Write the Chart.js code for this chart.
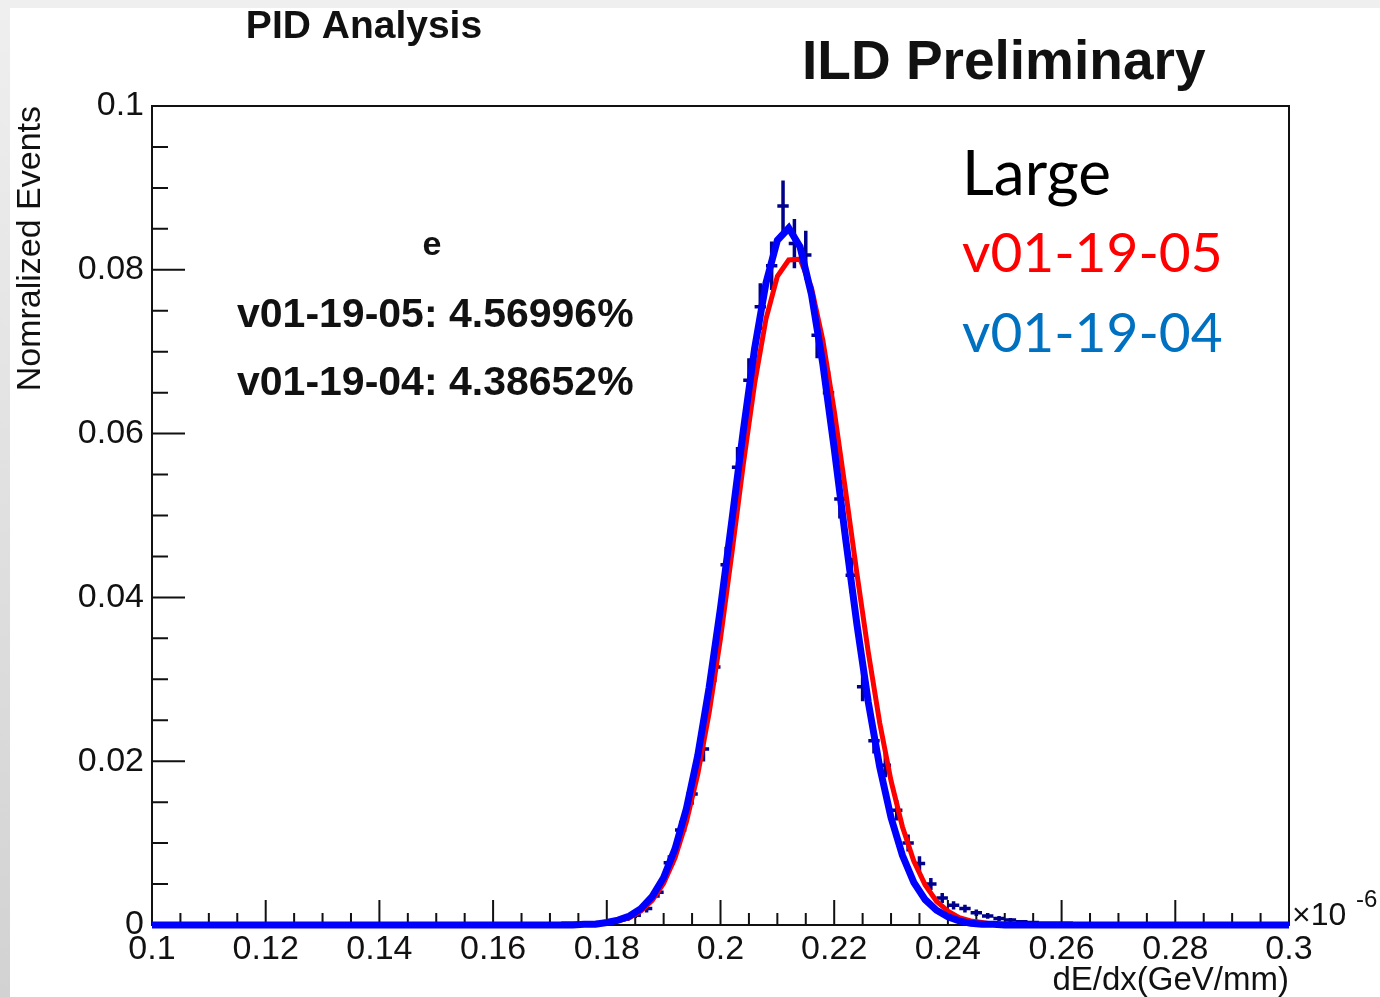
<!DOCTYPE html>
<html>
<head>
<meta charset="utf-8">
<script src="https://cdn.jsdelivr.net/npm/chart.js@4.4.0/dist/chart.umd.min.js"></script>
<style>
  html, body { margin: 0; padding: 0; }
  body { width: 1380px; height: 997px; overflow: hidden; position: relative; background: linear-gradient(#efefef, #d2d2d2); }
  #panel { position: absolute; left: 10px; top: 8px; width: 1370px; height: 989px; background: #fff; }
</style>
</head>
<body>
<div id="panel"><canvas id="grafico" width="1370" height="989"></canvas></div>
<script>
// CENTROS DE BINS (dE/dx, x1e-6 GeV/mm)
const binCenters = [
  0.101, 0.103, 0.105, 0.107, 0.109, 0.111, 0.113, 0.115, 0.117, 0.119,
  0.121, 0.123, 0.125, 0.127, 0.129, 0.131, 0.133, 0.135, 0.137, 0.139,
  0.141, 0.143, 0.145, 0.147, 0.149, 0.151, 0.153, 0.155, 0.157, 0.159,
  0.161, 0.163, 0.165, 0.167, 0.169, 0.171, 0.173, 0.175, 0.177, 0.179,
  0.181, 0.183, 0.185, 0.187, 0.189, 0.191, 0.193, 0.195, 0.197, 0.199,
  0.201, 0.203, 0.205, 0.207, 0.209, 0.211, 0.213, 0.215, 0.217, 0.219,
  0.221, 0.223, 0.225, 0.227, 0.229, 0.231, 0.233, 0.235, 0.237, 0.239,
  0.241, 0.243, 0.245, 0.247, 0.249, 0.251, 0.253, 0.255, 0.257, 0.259,
  0.261, 0.263, 0.265, 0.267, 0.269, 0.271, 0.273, 0.275, 0.277, 0.279,
  0.281, 0.283, 0.285, 0.287, 0.289, 0.291, 0.293, 0.295, 0.297, 0.299
];
// HISTOGRAMA v01-19-04 (eventos normalizados)
const histValues = [
  0, 0, 0, 0, 0, 0, 0, 0, 0, 0,
  0, 0, 0, 0, 0, 0.0001, 0.0001, 0, 0.0001, 0.0001,
  0, 0, 0, 0, 0.0001, 0.0001, 0, 0.0001, 0.0001, 0,
  0.0001, 0.0001, 0.0001, 0.0001, 0.0001, 0.0001, 0.0002, 0.0002, 0.0002, 0.0003,
  0.0004, 0.0007, 0.0012, 0.0020, 0.0040, 0.0076, 0.0116, 0.0160, 0.0215, 0.0315,
  0.0440, 0.0559, 0.0665, 0.0755, 0.0805, 0.0878, 0.0832, 0.0818, 0.0720, 0.0650,
  0.0520, 0.0427, 0.0291, 0.0225, 0.0195, 0.0140, 0.0100, 0.0075, 0.0050, 0.0033,
  0.0024, 0.0020, 0.0015, 0.0011, 0.0008, 0.0006, 0.0004, 0.0003, 0.0002, 0.0002,
  0.0002, 0.0001, 0.0001, 0, 0.0001, 0.0001, 0, 0, 0, 0,
  0, 0, 0, 0, 0, 0, 0, 0, 0, 0
];
const histErrors = [
  0, 0, 0, 0, 0, 0, 0, 0, 0, 0,
  0, 0, 0, 0, 0, 0.0001, 0.0001, 0, 0.0001, 0.0001,
  0, 0, 0, 0, 0.0001, 0.0001, 0, 0.0001, 0.0001, 0,
  0.0001, 0.0001, 0.0001, 0.0001, 0.0001, 0.0001, 0.00015, 0.00015, 0.00015, 0.00018,
  0.0002, 0.00028, 0.00036, 0.00047, 0.00066, 0.00091, 0.00112, 0.00132, 0.00153, 0.00185,
  0.00219, 0.00246, 0.00269, 0.00286, 0.00296, 0.00309, 0.00301, 0.00298, 0.0028, 0.00266,
  0.00238, 0.00215, 0.00178, 0.00156, 0.00146, 0.00123, 0.00104, 0.0009, 0.00074, 0.0006,
  0.00051, 0.00047, 0.0004, 0.00035, 0.0003, 0.00026, 0.0002, 0.00018, 0.00015, 0.00015,
  0.00015, 0.0001, 0.0001, 0, 0.0001, 0.0001, 0, 0, 0, 0,
  0, 0, 0, 0, 0, 0, 0, 0, 0, 0
];

// CURVAS DE AJUSTE
const curveX = [
  0.100,
  0.170, 0.172, 0.174, 0.176, 0.178, 0.180, 0.182, 0.184, 0.186, 0.188,
  0.190, 0.192, 0.194, 0.196, 0.198, 0.200, 0.202, 0.204, 0.206, 0.208,
  0.210, 0.212, 0.214, 0.216, 0.218, 0.220, 0.222, 0.224, 0.226, 0.228,
  0.230, 0.232, 0.234, 0.236, 0.238, 0.240, 0.242, 0.244, 0.246, 0.248,
  0.250, 0.252, 0.254, 0.256, 0.258, 0.260,
  0.300
];
const fitV0405 = [
  0,
  0, 0, 0, 0.0001, 0.0001, 0.0003, 0.0005, 0.0009, 0.0017, 0.0030,
  0.0051, 0.0082, 0.0126, 0.0184, 0.0259, 0.0350, 0.0454, 0.0562, 0.0661, 0.0740,
  0.0792, 0.0812, 0.0813, 0.0778, 0.0714, 0.0628, 0.0530, 0.0429, 0.0333, 0.0247,
  0.0176, 0.0120, 0.0078, 0.0049, 0.0029, 0.0017, 0.0009, 0.0005, 0.0003, 0.0001,
  0.0001, 0, 0, 0, 0, 0,
  0
];
const fitV0404 = [
  0,
  0, 0, 0, 0.0001, 0.0001, 0.0003, 0.0006, 0.0011, 0.0020, 0.0035,
  0.0058, 0.0093, 0.0142, 0.0207, 0.0290, 0.0387, 0.0494, 0.0603, 0.0704, 0.0784,
  0.0836, 0.0851, 0.0828, 0.0770, 0.0685, 0.0582, 0.0472, 0.0367, 0.0272, 0.0193,
  0.0131, 0.0085, 0.0052, 0.0031, 0.0018, 0.0010, 0.0005, 0.0002, 0.0001, 0.0001,
  0, 0, 0, 0, 0, 0,
  0
];

const binWidth = 0.002;
const fuente = "'Liberation Sans', Arial, sans-serif";

function formatear(v) {
  return String(Math.round(v * 1000) / 1000);
}

// MARCO Y TICKS ESTILO ROOT
const marco = {
  id: 'marco',
  beforeDatasetsDraw(chart) {
    const { ctx, chartArea: a, scales: { x, y } } = chart;
    ctx.save();
    ctx.strokeStyle = '#111';
    ctx.lineWidth = 2;
    ctx.strokeRect(a.left, a.top, a.right - a.left, a.bottom - a.top);
    ctx.beginPath();
    for (let i = 0; i <= 40; i++) {
      const px = x.getPixelForValue(0.1 + i * 0.005);
      const largo = i % 4 === 0 ? 25 : 12;
      ctx.moveTo(px, a.bottom);
      ctx.lineTo(px, a.bottom - largo);
    }
    for (let i = 0; i <= 20; i++) {
      const py = y.getPixelForValue(i * 0.005);
      const largo = i % 4 === 0 ? 33 : 16;
      ctx.moveTo(a.left, py);
      ctx.lineTo(a.left + largo, py);
    }
    ctx.stroke();
    ctx.restore();
  }
};

// BARRAS DE ERROR DEL HISTOGRAMA
const barrasError = {
  id: 'barrasError',
  afterDatasetDraw(chart, args) {
    if (args.index !== 2) return;
    const { ctx, scales: { x, y } } = chart;
    ctx.save();
    ctx.strokeStyle = '#00008c';
    ctx.lineWidth = 3.5;
    ctx.beginPath();
    binCenters.forEach((c, i) => {
      const v = histValues[i];
      const e = histErrors[i];
      const x1 = x.getPixelForValue(c - binWidth / 2);
      const x2 = x.getPixelForValue(c + binWidth / 2);
      const py = y.getPixelForValue(v);
      const px = x.getPixelForValue(c);
      ctx.moveTo(x1, py);
      ctx.lineTo(x2, py);
      if (e > 0) {
        ctx.moveTo(px, y.getPixelForValue(v - e));
        ctx.lineTo(px, y.getPixelForValue(v + e));
      }
    });
    ctx.stroke();
    ctx.restore();
  }
};

// TEXTOS
const textos = {
  id: 'textos',
  afterDraw(chart) {
    const { ctx } = chart;
    ctx.save();
    ctx.fillStyle = '#111';
    ctx.textBaseline = 'alphabetic';
    ctx.textAlign = 'center';
    ctx.font = `bold 39px ${fuente}`;
    ctx.fillText('PID Analysis', 354, 30);
    ctx.font = `bold 34px ${fuente}`;
    ctx.fillText('e', 422, 247);
    ctx.textAlign = 'left';
    ctx.font = `bold 55px ${fuente}`;
    ctx.fillText('ILD Preliminary', 792, 71);
    ctx.font = `bold 41px ${fuente}`;
    ctx.fillText('v01-19-05: 4.56996%', 227, 319);
    ctx.fillText('v01-19-04: 4.38652%', 227, 387);
    ctx.font = `32px ${fuente}`;
    ctx.fillText('\u00d710', 1282, 917);
    ctx.font = `24px ${fuente}`;
    ctx.fillText('-6', 1346, 899);
    ctx.font = "62px Lato, sans-serif";
    ctx.fillStyle = '#000';
    ctx.fillText('Large', 952, 187);
    ctx.font = "55px Lato, sans-serif";
    ctx.fillStyle = '#ff0000';
    ctx.fillText('v01-19-05', 952, 264);
    ctx.fillStyle = '#0070c0';
    ctx.fillText('v01-19-04', 952, 344);
    ctx.restore();
  }
};

const canvasGrafico = document.getElementById('grafico');
const grafico = new Chart(canvasGrafico, {
  type: 'line',
  data: {
    datasets: [
      {
        label: 'v01-19-04 fit',
        data: curveX.map((v, i) => ({ x: v, y: fitV0404[i] })),
        borderColor: '#0000ff',
        borderWidth: 7,
        pointRadius: 0,
        tension: 0,
        clip: false
      },
      {
        label: 'v01-19-05 fit',
        data: curveX.map((v, i) => ({ x: v, y: fitV0405[i] })),
        borderColor: '#ff0000',
        borderWidth: 5,
        pointRadius: 0,
        tension: 0,
        clip: false
      },
      {
        label: 'v01-19-04',
        data: binCenters.map((c, i) => ({ x: c, y: histValues[i] })),
        showLine: false,
        pointRadius: 0,
        clip: false
      }
    ]
  },
  options: {
    responsive: false,
    animation: false,
    events: [],
    layout: { padding: { top: 98, right: 91, left: 0, bottom: 0 } },
    plugins: { legend: { display: false }, tooltip: { enabled: false } },
    scales: {
      x: {
        type: 'linear',
        min: 0.1,
        max: 0.3,
        grid: { display: false, drawTicks: false },
        border: { display: false },
        ticks: {
          stepSize: 0.02,
          padding: 4,
          autoSkip: false,
          maxRotation: 0,
          color: '#111',
          font: { family: fuente, size: 34 },
          callback: (v) => formatear(v)
        },
        title: {
          display: true,
          text: 'dE/dx(GeV/mm)',
          align: 'end',
          color: '#111',
          font: { family: fuente, size: 33, lineHeight: 1 },
          padding: { top: 0, bottom: 0 }
        },
        afterFit: (s) => { s.height = 72; }
      },
      y: {
        min: 0,
        max: 0.1,
        grid: { display: false, drawTicks: false },
        border: { display: false },
        ticks: {
          stepSize: 0.02,
          padding: 8,
          color: '#111',
          font: { family: fuente, size: 34 },
          callback: (v) => formatear(v)
        },
        title: {
          display: true,
          text: 'Nomralized Events',
          align: 'end',
          color: '#111',
          font: { family: fuente, size: 34, lineHeight: 1 },
          padding: { top: 4, bottom: 0 }
        },
        afterFit: (s) => { s.width = 142; }
      }
    }
  },
  plugins: [marco, barrasError, textos]
});
</script>
</body>
</html>
